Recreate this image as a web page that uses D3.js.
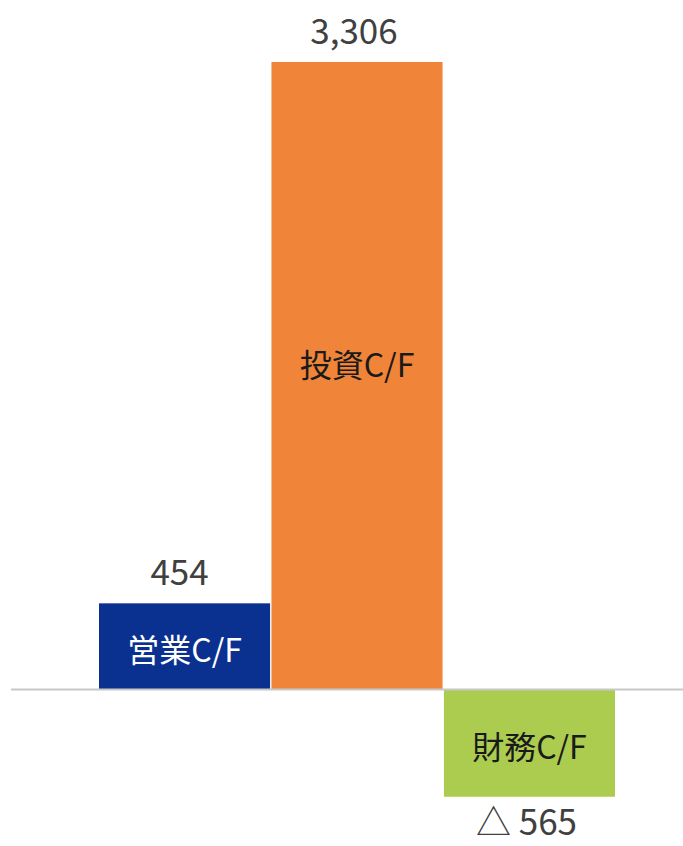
<!DOCTYPE html>
<html><head><meta charset="utf-8">
<script src="https://cdn.jsdelivr.net/npm/d3@7"></script>
<style>body{margin:0;background:#fff;}svg{display:block;}</style>
</head><body>
<script>
const categories = ["営業C/F", "投資C/F", "財務C/F"];
const values = [454, 3306, -565];
const valueLabels = ["454", "3,306", "△ 565"];
const barColors = ["#0a3190", "#f08439", "#abcc4f"];
const innerTextColors = ["#ffffff", "#1a1a1a", "#1a1a1a"];

const W = 683, H = 846;
const svg = d3.select("body").append("svg").attr("width", W).attr("height", H);
const font = "'Noto Sans CJK JP', 'Noto Sans', sans-serif";

const x = d3.scaleBand().domain(categories).range([99, 615]).paddingInner(0.008).paddingOuter(0);
const y = d3.scaleLinear().domain([-800, 3306]).range([841.35, 62]);

svg.selectAll("rect.bar").data(values).join("rect")
  .attr("class", "bar")
  .attr("x", (d, i) => x(categories[i]))
  .attr("width", x.bandwidth())
  .attr("y", d => y(Math.max(0, d)))
  .attr("height", d => Math.abs(y(d) - y(0)))
  .attr("fill", (d, i) => barColors[i]);

// baseline axis
svg.append("line").attr("x1", 11).attr("x2", W).attr("y1", y(0)).attr("y2", y(0))
  .attr("stroke", "#c8c8c8").attr("stroke-width", 2);

// inside labels
svg.selectAll("text.cat").data(values).join("text")
  .attr("class", "cat")
  .attr("x", (d, i) => x(categories[i]) + x.bandwidth() / 2)
  .attr("y", (d, i) => (y(0) + y(d)) / 2 + (i === 1 ? -13 : 2))
  .attr("text-anchor", "middle").attr("dominant-baseline", "central")
  .attr("font-family", font).attr("font-size", 32)
  .attr("fill", (d, i) => innerTextColors[i])
  .text((d, i) => categories[i]);

// value labels
svg.selectAll("text.val").data(values).join("text")
  .attr("class", "val")
  .attr("x", (d, i) => x(categories[i]) + x.bandwidth() / 2 - (i === 0 ? 5 : 3))
  .attr("y", d => d >= 0 ? y(d) - 18 : y(d) + 38)
  .attr("text-anchor", "middle")
  .attr("font-family", font).attr("font-size", 35)
  .attr("fill", "#404040")
  .text((d, i) => valueLabels[i]);
</script>
</body></html>
